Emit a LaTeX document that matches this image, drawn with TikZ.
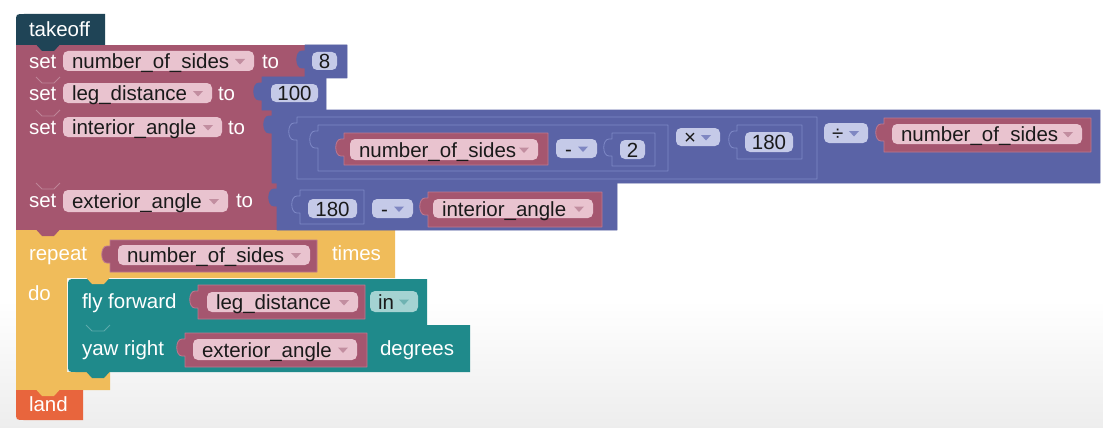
\documentclass[tikz,border=0pt]{standalone}
\usepackage{fontspec}
\setmainfont{Liberation Sans}
\newcommand\blkfnt{\fontsize{20.5}{24}\selectfont}
\definecolor{takeoffc}{HTML}{1F4456}
\definecolor{varc}{HTML}{A5566F}
\definecolor{varline}{HTML}{BE7890}
\definecolor{mathc}{HTML}{5A63A6}
\definecolor{mathline}{HTML}{7E88C6}
\definecolor{pinkf}{HTML}{E9C3CF}
\definecolor{bluef}{HTML}{C5CAE8}
\definecolor{loopc}{HTML}{F0BC5A}
\definecolor{dronec}{HTML}{1F8A8B}
\definecolor{tealf}{HTML}{A4D3D2}
\definecolor{landc}{HTML}{E8653D}
\definecolor{ftext}{HTML}{1A1A1A}
\definecolor{pinkarr}{HTML}{C28EA0}
\definecolor{bluearr}{HTML}{7F87C2}
\definecolor{tealarr}{HTML}{6FB3B2}
\tikzset{
 lbl/.style={anchor=mid west, inner sep=0pt, outer sep=0pt, text=white, font=\blkfnt, yshift=-5pt},
 ftxt/.style={anchor=mid west, inner sep=0pt, outer sep=0pt, text=ftext, font=\blkfnt, yshift=-5pt},
 ftxtc/.style={anchor=mid, inner sep=0pt, outer sep=0pt, text=ftext, font=\blkfnt, yshift=-5pt},
}
% statement tab (downward)
\newcommand\stab[3]{\fill[#1] (#2,#3-0.6) -- (#2+6,#3+6) -- (#2+18,#3+6) -- (#2+24,#3-0.6) -- cycle;}
% notch highlight
\newcommand\shl[2]{\draw[white, opacity=0.28, line width=0.9] (#1,#2) -- (#1+6,#2+6) -- (#1+18,#2+6) -- (#1+24,#2);}
% value block with left puzzle tab
\newcommand\vblock[6]{\filldraw[fill=#1, draw=#2, line width=0.8, line join=round] (#3,#4) -- (#5,#4) -- (#5,#6) -- (#3,#6) -- (#3,#4+23) -- (#3-3,#4+23) .. controls (#3-10,#4+23) and (#3-10,#4+6) .. (#3-3,#4+6) -- (#3,#4+6) -- cycle;}
% field
\newcommand\fld[5]{\fill[#1, rounded corners=5] (#2,#3) rectangle (#4,#5);}
% dropdown arrow
\newcommand\darr[3]{\fill[#1] (#2-5,#3-2.5) -- (#2+5,#3-2.5) -- (#2,#3+3) -- cycle;}
\begin{document}
\begin{tikzpicture}[x=1pt,y=-1pt]
\useasboundingbox (0,0) rectangle (1103,428);
\fill[white] (0,0) rectangle (1103,428);
\shade[top color=white, bottom color=black!7] (0,300) rectangle (1103,428);

% ---------- statement bodies ----------
\fill[takeoffc] (16,45) -- (16,22) .. controls (16,14) .. (24,14) -- (105,14) -- (105,45) -- cycle;
\fill[varc] (16,45) rectangle (305,77);
\fill[varc] (16,77) rectangle (262,110);
\fill[varc] (16,110) rectangle (272,183);
\fill[varc] (16,183) rectangle (277,230);
\fill[loopc] (16,230) -- (395,230) -- (395,278) -- (67,278) -- (67,372) -- (110,372) -- (110,390) -- (16,390) -- cycle;
\fill[landc] (16,390) -- (83,390) -- (83,420) -- (24,420) .. controls (16,420) .. (16,412) -- cycle;
\fill[dronec] (68,325) -- (68,287) .. controls (68,279) .. (76,279) -- (427,279) -- (427,325) -- cycle;
\fill[dronec] (68,325) -- (470,325) -- (470,372) -- (76,372) .. controls (68,372) .. (68,364) -- cycle;

% ---------- statement tabs ----------
\stab{takeoffc}{36}{45}
\shl{36}{77} \shl{36}{110} \shl{36}{183}
\stab{varc}{36}{230}
\stab{loopc}{86}{278}
\shl{86}{325}
\stab{dronec}{86}{372}
\stab{loopc}{36}{390}

% ---------- takeoff ----------
\node[lbl] (t0) at (29,29) {takeoff};

% ---------- row 1 ----------
\node[lbl] (s1) at (29,61) {set};
\fld{pinkf}{63}{51}{254}{71}
\node[ftxt] (v1) at (72,61) {number\_of\_sides};
\darr{pinkarr}{240}{61.5}
\node[lbl] (to1) at (262,61) {to};
\vblock{mathc}{mathc}{305}{45}{347}{78}
\fld{bluef}{312}{52}{337}{70}
\node[ftxtc] (n8) at (324.5,61) {8};

% ---------- row 2 ----------
\node[lbl] (s2) at (29,93) {set};
\fld{pinkf}{63}{83}{212}{103}
\node[ftxt] (v2) at (72,93) {leg\_distance};
\darr{pinkarr}{198}{93.5}
\node[lbl] (to2) at (218,93) {to};
\vblock{mathc}{mathc}{262}{77}{326}{110}
\fld{bluef}{271}{84}{318}{102}
\node[ftxtc] (n100) at (294.5,93) {100};

% ---------- row 3 ----------
\node[lbl] (s3) at (29,127) {set};
\fld{pinkf}{63}{117}{222}{137}
\node[ftxt] (v3) at (72,127) {interior\_angle};
\darr{pinkarr}{208}{127.5}
\node[lbl] (to3) at (228,127) {to};
\vblock{mathc}{mathc}{272}{110}{1100}{183}
\vblock{mathc}{mathline}{297}{117}{817}{179}
\vblock{mathc}{mathline}{318}{125}{668}{171}
\vblock{varc}{varline}{344}{133}{548}{165}
\fld{pinkf}{350}{139}{538}{160}
\node[ftxt] (v4) at (359,149.5) {number\_of\_sides};
\darr{pinkarr}{524}{150}
\fld{bluef}{556}{139}{597}{158}
\node[ftxt] (op1) at (565,148.5) {-};
\darr{bluearr}{583}{149}
\vblock{mathc}{mathline}{612}{133}{655}{166}
\fld{bluef}{620}{140}{645}{159}
\node[ftxtc] (n2) at (632.5,149.5) {2};
\fld{bluef}{676}{128}{720}{146}
\node[ftxt] (op2) at (684,137) {×};
\darr{bluearr}{706}{137.5}
\vblock{mathc}{mathline}{737}{125}{802}{159}
\fld{bluef}{745}{132}{793}{152}
\node[ftxtc] (n180a) at (769,142) {180};
\fld{bluef}{824}{123}{868}{143}
\node[ftxt] (op3) at (832,133) {÷};
\darr{bluearr}{854}{133.5}
\vblock{varc}{varline}{884}{118}{1091}{152}
\fld{pinkf}{892}{124}{1082}{144}
\node[ftxt] (v5) at (901,134) {number\_of\_sides};
\darr{pinkarr}{1068}{134.5}

% ---------- row 4 ----------
\node[lbl] (s4) at (29,200) {set};
\fld{pinkf}{63}{190}{228}{212}
\node[ftxt] (v6) at (72,201) {exterior\_angle};
\darr{pinkarr}{214}{201.5}
\node[lbl] (to4) at (236,200) {to};
\vblock{mathc}{mathc}{277}{183}{617}{230}
\vblock{mathc}{mathline}{300}{190}{364}{224}
\fld{bluef}{308}{199}{357}{218}
\node[ftxtc] (n180b) at (332.5,208.5) {180};
\fld{bluef}{372}{199}{413}{218}
\node[ftxt] (op4) at (381,208.5) {-};
\darr{bluearr}{399}{209}
\vblock{varc}{varline}{428}{192}{602}{227}
\fld{pinkf}{433}{199}{593}{218}
\node[ftxt] (v7) at (442,208.5) {interior\_angle};
\darr{pinkarr}{579}{209}

% ---------- repeat ----------
\node[lbl] (rep) at (29,253) {repeat};
\vblock{varc}{varline}{110}{240}{317}{272}
\fld{pinkf}{118}{245}{310}{265}
\node[ftxt] (v8) at (127,255) {number\_of\_sides};
\darr{pinkarr}{296}{255.5}
\node[lbl] (tms) at (332,253) {times};
\node[lbl] (do) at (28,293) {do};

% ---------- fly forward ----------
\node[lbl] (fly) at (82,301) {fly forward};
\vblock{varc}{varline}{198}{285}{365}{319}
\fld{pinkf}{207}{292}{358}{312}
\node[ftxt] (v9) at (216,302) {leg\_distance};
\darr{pinkarr}{344}{302.5}
\fld{tealf}{370}{291}{418}{312}
\node[ftxt] (unit) at (378,301.5) {in};
\darr{tealarr}{404}{302}

% ---------- yaw right ----------
\node[lbl] (yaw) at (82,348) {yaw right};
\vblock{varc}{varline}{185}{333}{367}{367}
\fld{pinkf}{193}{339}{357}{360}
\node[ftxt] (v10) at (202,349.5) {exterior\_angle};
\darr{pinkarr}{343}{350}
\node[lbl] (deg) at (380,348) {degrees};

% ---------- land ----------
\node[lbl] (land) at (29,404) {land};
\end{tikzpicture}
\end{document}
